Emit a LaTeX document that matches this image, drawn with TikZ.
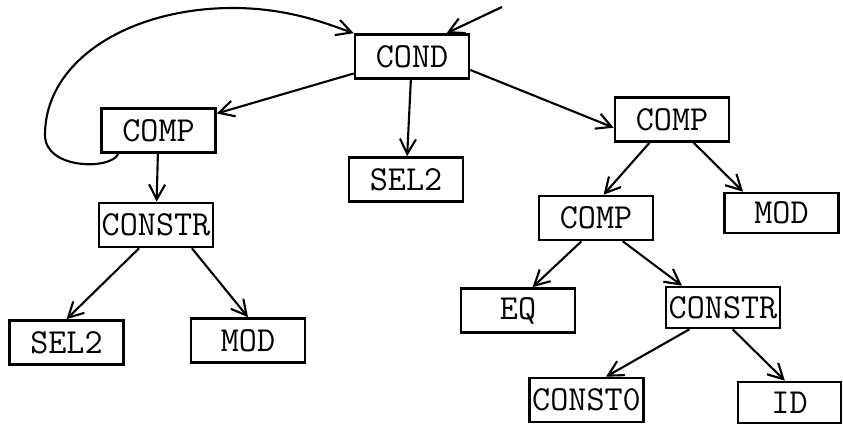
\documentclass[tikz,border=0pt]{standalone}
\usepackage{fontspec}
\usetikzlibrary{arrows.meta}

\begin{document}
\begin{tikzpicture}[x=0.02cm,y=-0.02cm,
box/.style={draw,line width=1.5pt,minimum width=2.28cm,minimum height=0.88cm,inner sep=0pt,
  font=\fontsize{20}{20}\selectfont\ttfamily},
link/.style={line width=1.2pt,-{Straight Barb[length=3mm,width=3.2mm]}}]
\useasboundingbox (0,0) rectangle (843,425);
\node[box] (cond) at (412,56.5) {COND};
\node[box] (compL) at (158.5,130.5) {COMP};
\node[box] (sel2M) at (406,179.5) {SEL2};
\node[box] (constrL) at (156,225) {CONSTR};
\node[box] (sel2L) at (66.5,342.5) {SEL2};
\node[box] (modL) at (248,340.5) {MOD};
\node[box] (compR) at (672,119.5) {COMP};
\node[box,minimum height=0.8cm] (modR) at (781.5,213) {MOD};
\node[box] (compM) at (596,218) {COMP};
\node[box] (eq) at (518,310.5) {EQ};
\node[box,minimum height=0.82cm] (constrR) at (723,307.5) {CONSTR};
\node[box] (const0) at (586.5,400) {CONST0};
\node[box,minimum width=2.06cm,minimum height=0.82cm] (id) at (789.5,402.5) {ID};
\coordinate (entry) at (502,7);
\draw[link] (entry) -- (cond.34);
\draw[link] (cond) -- (compL);
\draw[link] (cond) -- (sel2M);
\draw[link] (cond.-13) -- (compR.188);
\draw[link] (compL.210) .. controls (112,170) and (45,170) .. (45,135)
  .. controls (45,60) and (130,8) .. (233,8)
  .. controls (290,8) and (330,25) .. (cond.north west);
\draw[link] (compL) -- (constrL);
\draw[link] (constrL.234) -- (sel2L.north);
\draw[link] (constrL.-33) -- (modL.north);
\draw[link] (compR.226) -- (compM.72);
\draw[link] (compR.-47) -- (modR.151);
\draw[link] (compM.238) -- (eq.58);
\draw[link] (compM.-41) -- (constrR.152);
\draw[link] (constrR.213) -- (const0.50);
\draw[link] (constrR.-66) -- (id.102);
\end{tikzpicture}
\end{document}
